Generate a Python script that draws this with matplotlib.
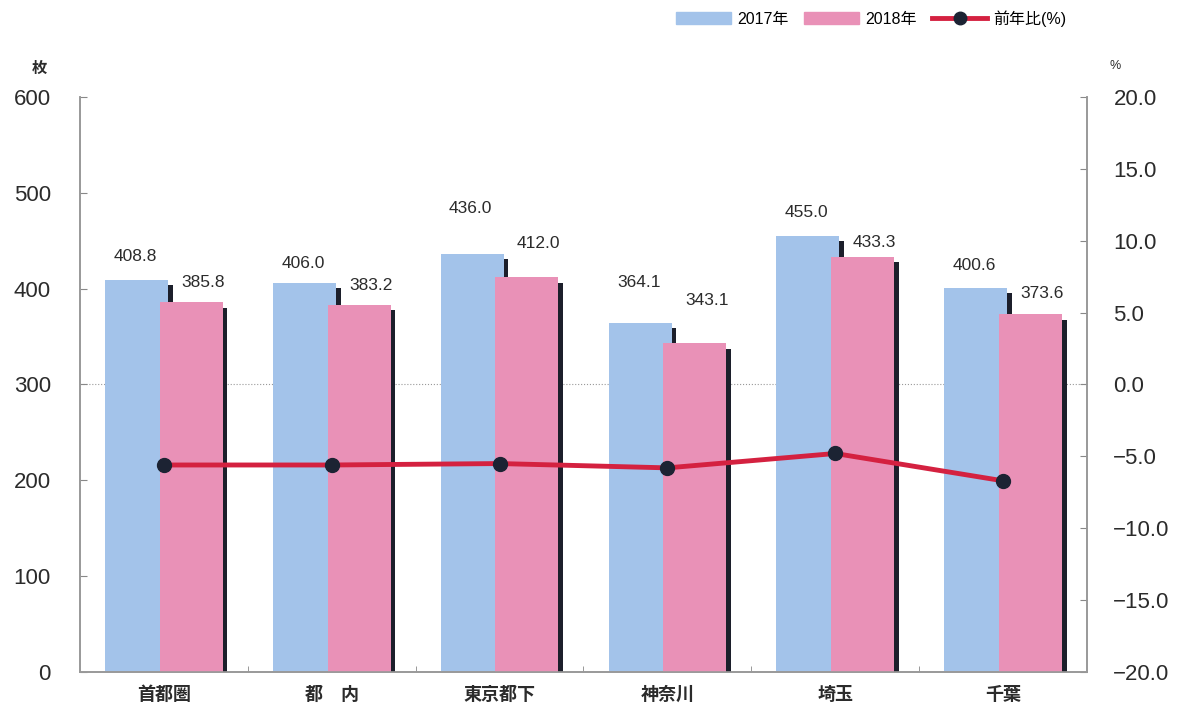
import numpy as np
import matplotlib.pyplot as plt
from matplotlib.lines import Line2D
from matplotlib.patches import Patch

plt.rcParams['font.family'] = ['Liberation Sans', 'Noto Sans CJK JP']

# data
regions = ['首都圏', '都\u3000内', '東京都下', '神奈川', '埼玉', '千葉']
y2017 = [408.8, 406.0, 436.0, 364.1, 455.0, 400.6]
y2018 = [385.8, 383.2, 412.0, 343.1, 433.3, 373.6]
yoy = [-5.6, -5.6, -5.5, -5.8, -4.8, -6.7]

# label offsets above bar top (points), picked by eye
off17 = [17, 14, 33, 29, 17, 16]
off18 = [14, 14, 24, 31, 10, 15]

c17 = '#a3c3ea'
c18 = '#e991b7'
shadow = '#1c1f2b'
txt = '#2b2b2b'

fig = plt.figure(figsize=(11.81, 7.13), dpi=100)
ax = fig.add_axes([0.0677, 0.0575, 0.8527, 0.8065])
x = np.arange(len(regions))
w = 0.375
d = 0.163

# bars with a thin dark shadow on the right side
ax.bar(x - d + 0.028, np.array(y2017) - 5, w, color=shadow, zorder=1)
ax.bar(x - d, y2017, w, color=c17, zorder=2)
ax.bar(x + d + 0.028, np.array(y2018) - 6, w, color=shadow, zorder=3)
ax.bar(x + d, y2018, w, color=c18, zorder=4)

for i in range(len(regions)):
    ax.annotate('%.1f' % y2017[i], (x[i] - d, y2017[i]), xytext=(-1, off17[i]),
                textcoords='offset points', ha='center', va='center',
                fontsize=12.5, color=txt, zorder=6)
    ax.annotate('%.1f' % y2018[i], (x[i] + d, y2018[i]), xytext=(8.6, off18[i]),
                textcoords='offset points', ha='center', va='center',
                fontsize=12.5, color=txt, zorder=6)

ax.axhline(300, color='#999999', lw=0.8, ls=':', zorder=0.5)

ax.set_xlim(-0.5, len(regions) - 0.5)
ax.set_ylim(0, 600)
ax.set_yticks(range(0, 601, 100))
ax.set_xticks(x)
ax.set_xticklabels(regions, fontsize=13, family=['Noto Sans CJK JP'], weight='bold', color=txt)
ax.set_xticks(np.arange(0.5, len(regions) - 0.5, 1), minor=True)
ax.tick_params(axis='x', which='major', length=0, pad=9)
ax.tick_params(axis='x', which='minor', direction='in', length=4, color='#888888')
ax.tick_params(axis='y', direction='in', length=5, color='#888888', labelsize=16,
               labelcolor=txt, pad=21)
ax.spines['top'].set_visible(False)
for s in ['left', 'right', 'bottom']:
    ax.spines[s].set_color('#999999')
    ax.spines[s].set_linewidth(1.2)

ax2 = ax.twinx()
ax2.plot(x, yoy, color='#d42140', lw=3.5, marker='o', markersize=10,
         markerfacecolor='#1c2333', markeredgecolor='#1c2333', zorder=5)
ax2.set_ylim(-20, 20)
ax2.set_yticks(range(-20, 21, 5))
ax2.set_yticklabels(['%.1f' % v if v >= 0 else '\u2212%.1f' % abs(v) for v in range(-20, 21, 5)])
ax2.tick_params(axis='y', direction='in', length=5, color='#888888', labelsize=16,
                labelcolor=txt, pad=19)
ax2.spines['top'].set_visible(False)
for s in ['left', 'right', 'bottom']:
    ax2.spines[s].set_color('#999999')
    ax2.spines[s].set_linewidth(1.2)

fig.text(39 / 1181, 1 - 68 / 713, '枚', ha='center', va='center', fontsize=11,
         family=['Noto Sans CJK JP'], weight='bold', color=txt)
fig.text(1115 / 1181, 1 - 66 / 713, '%', ha='center', va='center', fontsize=9, color=txt)

handles = [Patch(color=c17), Patch(color=c18),
           Line2D([], [], color='#d42140', lw=3.5, marker='o', markersize=9,
                  markerfacecolor='#1c2333', markeredgecolor='#1c2333')]
fig.legend(handles, ['2017年', '2018年', '前年比(%)'], loc='center right',
           bbox_to_anchor=(0.915, 0.974), ncol=3, frameon=False, fontsize=11.5,
           handlelength=3.4, handleheight=0.8, handletextpad=0.4, columnspacing=1.0)

fig.savefig('out.png', dpi=100)
